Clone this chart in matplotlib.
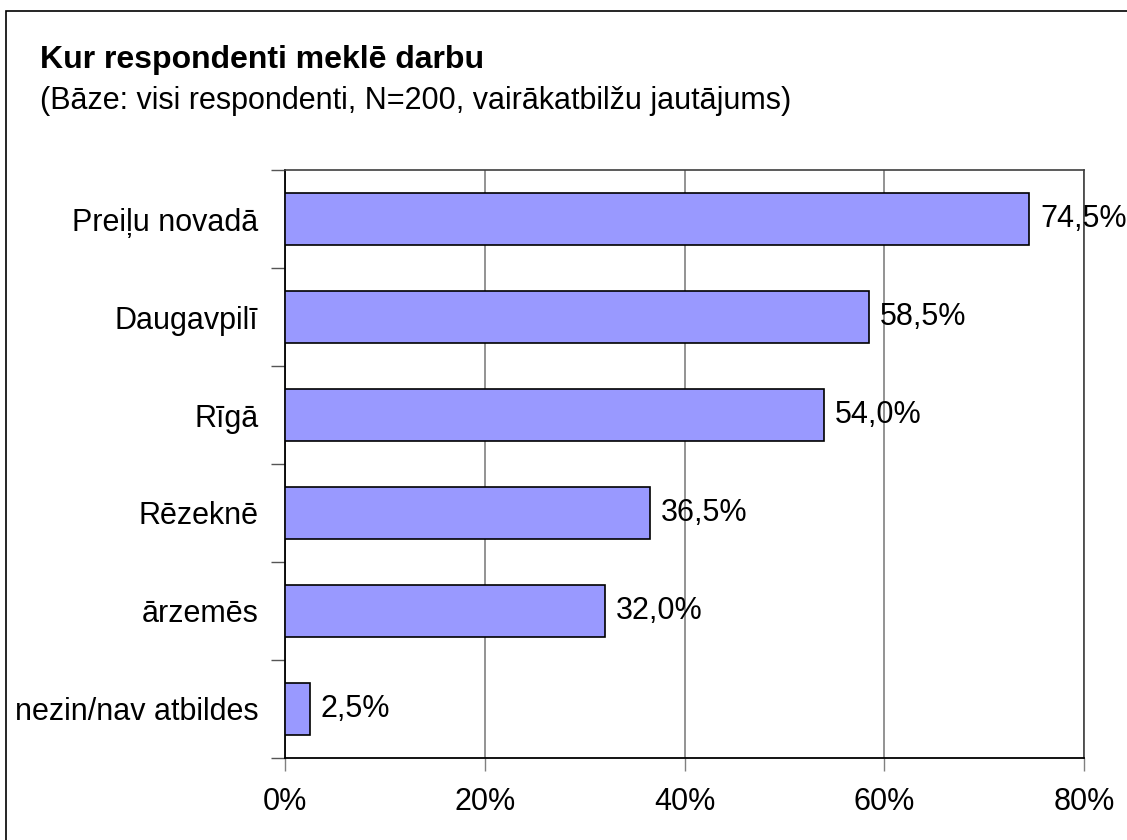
import matplotlib.pyplot as plt
import matplotlib.patches as mpatches
import numpy as np

categories = ['Preiļu novadā', 'Daugavpilī', 'Rīgā', 'Rēzeknē', 'ārzemēs', 'nezin/nav atbildes']
values = [74.5, 58.5, 54.0, 36.5, 32.0, 2.5]
xticks = [0, 20, 40, 60, 80]

plt.rcParams['font.family'] = ['Liberation Sans', 'DejaVu Sans']

fig = plt.figure(figsize=(11.27, 8.4), dpi=100)
ax = fig.add_axes([285 / 1127, 1 - 758 / 840, (1084 - 285) / 1127, (758 - 170) / 840])

# rāmis ap visu attēlu
fig.patches.append(mpatches.Rectangle((6 / 1127, -0.1), 1.2, 1 - 11 / 840 + 0.1,
                                      transform=fig.transFigure, fill=False,
                                      edgecolor='black', linewidth=1.2))

y = np.arange(len(categories))
ax.barh(y, values, height=0.54, color='#9999FF', edgecolor='black', linewidth=1.2, zorder=3)

for yi, v in zip(y, values):
    ax.text(v + 1.1, yi, f'{v:.1f}%'.replace('.', ','), va='center', ha='left',
            fontsize=22, zorder=4, clip_on=False)

ax.set_xlim(0, 80)
ax.set_ylim(len(categories) - 0.5, -0.5)
ax.set_xticks(xticks)
ax.set_xticklabels([f'{t}%' for t in xticks], fontsize=22)
ax.set_yticks(y)
ax.set_yticklabels(categories, fontsize=22)
ax.set_yticks(np.arange(len(categories) + 1) - 0.5, minor=True)

ax.tick_params(axis='y', which='major', length=0, pad=19)
ax.tick_params(axis='y', which='minor', length=10, width=1, color='#555555', direction='out')
ax.tick_params(axis='x', length=9, width=1, color='#808080', direction='out', pad=12)

ax.grid(axis='x', color='#808080', linewidth=1.2, zorder=0)

for side in ['left', 'bottom']:
    ax.spines[side].set_color('black')
    ax.spines[side].set_linewidth(1.3)
for side in ['top', 'right']:
    ax.spines[side].set_color('#404040')
    ax.spines[side].set_linewidth(1.2)

fig.text(40 / 1127, 1 - 60 / 840, 'Kur respondenti meklē darbu', fontsize=23,
         fontweight='bold', va='center', ha='left')
fig.text(40 / 1127, 1 - 101 / 840, '(Bāze: visi respondenti, N=200, vairākatbilžu jautājums)',
         fontsize=22, va='center', ha='left')

fig.savefig('out.png', dpi=100, facecolor='white')
